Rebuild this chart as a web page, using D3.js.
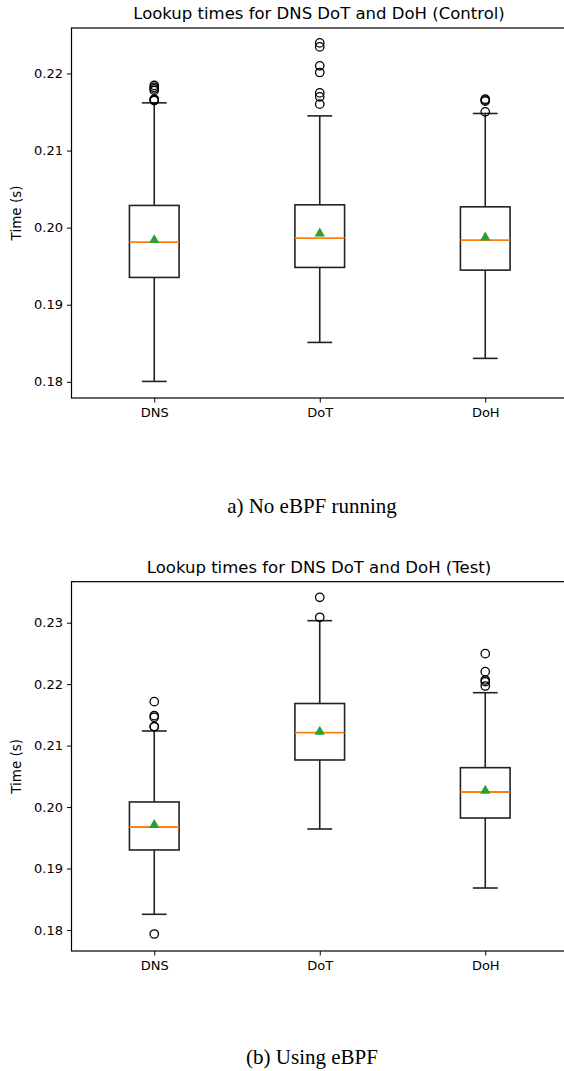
<!DOCTYPE html>
<html>
<head>
<meta charset="utf-8">
<script src="https://cdn.jsdelivr.net/npm/d3@7"></script>
<style>
  body { margin: 0; background: #fff; }
  svg { display: block; }
</style>
</head>
<body>
<div id="container"></div>
<script>
const categories = ["DNS", "DoT", "DoH"];

// panel a (control)
const controlLow = [0.18005, 0.18511, 0.18304];
const controlQ1 = [0.19354, 0.19484, 0.19449];
const controlMedian = [0.19812, 0.19864, 0.19838];
const controlMean = [0.19838, 0.19925, 0.19873];
const controlQ3 = [0.20288, 0.20296, 0.2027];
const controlHigh = [0.21619, 0.2145, 0.21481];
const controlOutliers = [
  [0.21648, 0.2166, 0.21665, 0.2178, 0.218, 0.2182, 0.21845],
  [0.21602, 0.21697, 0.21748, 0.22013, 0.22099, 0.22345, 0.22397],
  [0.21502, 0.21641, 0.21655, 0.21667],
];
const controlTicks = [0.18, 0.19, 0.2, 0.21, 0.22];

// panel b (test)
const testLow = [0.18255, 0.19643, 0.18683];
const testQ1 = [0.19302, 0.20766, 0.19822];
const testMedian = [0.19676, 0.2121, 0.20245];
const testMean = [0.19708, 0.21226, 0.20267];
const testQ3 = [0.20083, 0.21685, 0.20641];
const testHigh = [0.21238, 0.23033, 0.21861];
const testOutliers = [
  [0.17935, 0.21308, 0.2131, 0.2146, 0.21487, 0.21715],
  [0.23088, 0.23413],
  [0.2197, 0.2204, 0.22068, 0.22203, 0.22496],
];
const testTicks = [0.18, 0.19, 0.2, 0.21, 0.22, 0.23];

const width = 564;
const height = 1071;
const left = 71.5;
const right = 568;

const svg = d3
  .select("#container")
  .append("svg")
  .attr("width", width)
  .attr("height", height)
  .style("font-family", "DejaVu Sans, sans-serif");

const x = d3.scalePoint().domain(categories).range([left, right]).padding(0.5);
const boxW = x.step() * 0.3;

function panel(opts) {
  const y = d3.scaleLinear().domain(opts.domain).range([opts.bottom, opts.top]);
  const g = svg.append("g");

  const boxes = categories.map((name, i) => ({
    name,
    low: opts.low[i],
    q1: opts.q1[i],
    median: opts.median[i],
    mean: opts.mean[i],
    q3: opts.q3[i],
    high: opts.high[i],
    outliers: opts.outliers[i],
  }));

  // axes
  g.append("g")
    .attr("transform", `translate(${left},0)`)
    .call(d3.axisLeft(y).tickValues(opts.ticks).tickSize(4.5).tickPadding(4).tickFormat(d3.format(".2f")))
    .call((a) => a.select(".domain").remove())
    .call((a) => a.selectAll("text").attr("font-size", 13).attr("fill", "#000").attr("font-family", "DejaVu Sans"));

  g.append("g")
    .attr("transform", `translate(0,${opts.bottom})`)
    .call(d3.axisBottom(x).tickSize(4.5).tickPadding(5))
    .call((a) => a.select(".domain").remove())
    .call((a) => a.selectAll("text").attr("font-size", 13).attr("fill", "#000").attr("font-family", "DejaVu Sans"));

  g.append("rect")
    .attr("x", left)
    .attr("y", opts.top)
    .attr("width", right - left)
    .attr("height", opts.bottom - opts.top)
    .attr("fill", "none")
    .attr("stroke", "#000")
    .attr("stroke-width", 1.2);

  g.append("text")
    .attr("x", 319)
    .attr("y", opts.top - 9)
    .attr("text-anchor", "middle")
    .attr("font-size", 16.5)
    .text(opts.title);

  g.append("text")
    .attr("transform", `translate(21,${(opts.top + opts.bottom) / 2}) rotate(-90)`)
    .attr("text-anchor", "middle")
    .attr("font-size", 13.5)
    .text("Time (s)");

  const b = g.selectAll(".box").data(boxes).join("g").attr("class", "box");

  // whiskers
  b.append("line")
    .attr("x1", (d) => x(d.name)).attr("x2", (d) => x(d.name))
    .attr("y1", (d) => y(d.q3)).attr("y2", (d) => y(d.high))
    .attr("stroke", "#222").attr("stroke-width", 1.6);
  b.append("line")
    .attr("x1", (d) => x(d.name)).attr("x2", (d) => x(d.name))
    .attr("y1", (d) => y(d.q1)).attr("y2", (d) => y(d.low))
    .attr("stroke", "#222").attr("stroke-width", 1.6);
  // caps
  ["low", "high"].forEach((k) => {
    b.append("line")
      .attr("x1", (d) => x(d.name) - boxW / 4).attr("x2", (d) => x(d.name) + boxW / 4)
      .attr("y1", (d) => y(d[k])).attr("y2", (d) => y(d[k]))
      .attr("stroke", "#222").attr("stroke-width", 1.6);
  });
  // box
  b.append("rect")
    .attr("x", (d) => x(d.name) - boxW / 2)
    .attr("y", (d) => y(d.q3))
    .attr("width", boxW)
    .attr("height", (d) => y(d.q1) - y(d.q3))
    .attr("fill", "none").attr("stroke", "#222").attr("stroke-width", 1.6);
  // median
  b.append("line")
    .attr("x1", (d) => x(d.name) - boxW / 2).attr("x2", (d) => x(d.name) + boxW / 2)
    .attr("y1", (d) => y(d.median)).attr("y2", (d) => y(d.median))
    .attr("stroke", "#ff7f0e").attr("stroke-width", 1.8);
  // mean
  b.append("path")
    .attr("d", d3.symbol(d3.symbolTriangle, 46))
    .attr("transform", (d) => `translate(${x(d.name)},${y(d.mean)})`)
    .attr("fill", "#2ca02c");
  // fliers
  b.selectAll("circle")
    .data((d) => d.outliers.map((v) => ({ name: d.name, v })))
    .join("circle")
    .attr("cx", (d) => x(d.name))
    .attr("cy", (d) => y(d.v))
    .attr("r", 4.2)
    .attr("fill", "none")
    .attr("stroke", "#000")
    .attr("stroke-width", 1.3);

  svg.append("text")
    .attr("x", 312)
    .attr("y", opts.captionY)
    .attr("text-anchor", "middle")
    .attr("font-family", "Liberation Serif, Times New Roman, serif")
    .attr("font-size", 21)
    .text(opts.caption);
}

panel({
  title: "Lookup times for DNS DoT and DoH (Control)",
  caption: "a) No eBPF running",
  captionY: 513,
  top: 28,
  bottom: 398,
  domain: [0.1779, 0.2259],
  ticks: controlTicks,
  low: controlLow, q1: controlQ1, median: controlMedian, mean: controlMean,
  q3: controlQ3, high: controlHigh, outliers: controlOutliers,
});

panel({
  title: "Lookup times for DNS DoT and DoH (Test)",
  caption: "(b) Using eBPF",
  captionY: 1064,
  top: 581.7,
  bottom: 951,
  domain: [0.17658, 0.23667],
  ticks: testTicks,
  low: testLow, q1: testQ1, median: testMedian, mean: testMean,
  q3: testQ3, high: testHigh, outliers: testOutliers,
});
</script>
</body>
</html>
